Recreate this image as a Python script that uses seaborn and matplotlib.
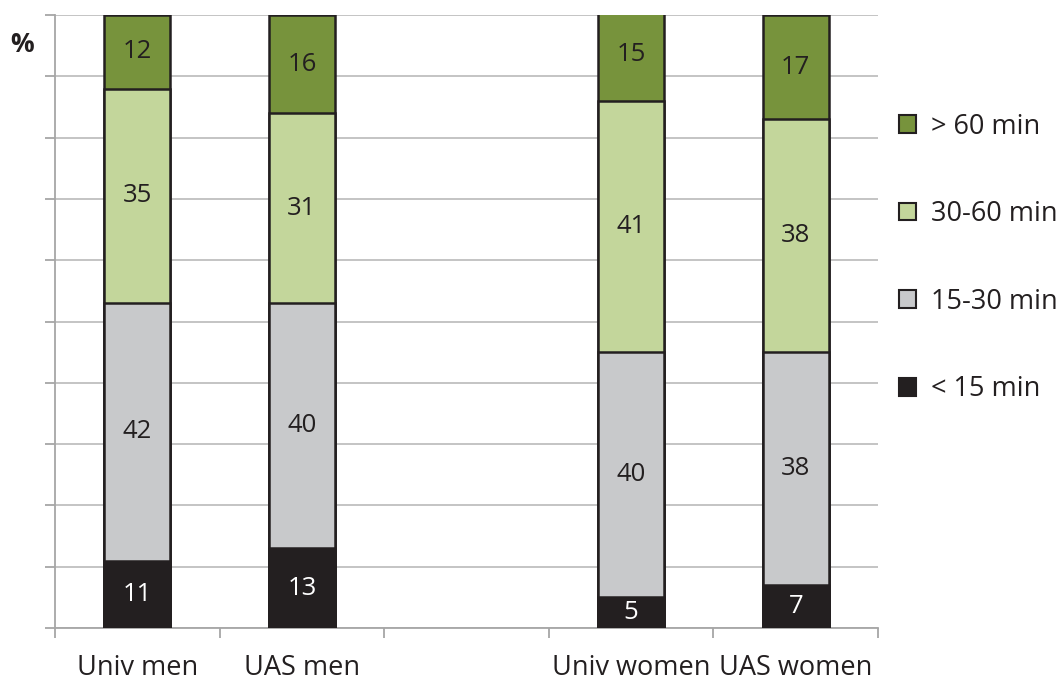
import numpy as np
import pandas as pd
import matplotlib
matplotlib.use("Agg")
import matplotlib.pyplot as plt
import seaborn as sns
from matplotlib.patches import Patch

# categories (blank slot between men and women)
groups = ["Univ men", "UAS men", " ", "Univ women", "UAS women"]
bands = ["< 15 min", "15-30 min", "30-60 min", "> 60 min"]
lt15 = [11, 13, np.nan, 5, 7]
m15_30 = [42, 40, np.nan, 40, 38]
m30_60 = [35, 31, np.nan, 41, 38]
gt60 = [12, 16, np.nan, 15, 17]
colors = ["#231F20", "#C8C9CB", "#C3D69B", "#77933C"]
text_colors = ["white", "#231F20", "#231F20", "#231F20"]

sns.set_style("white")
plt.rcParams['font.family'] = ['Open Sans', 'DejaVu Sans']

df = pd.DataFrame({"group": groups, bands[0]: lt15, bands[1]: m15_30,
                   bands[2]: m30_60, bands[3]: gt60})
df = df.dropna()
cum = df[bands].cumsum(axis=1)

fig = plt.figure(figsize=(10.61, 6.82), dpi=100)
ax = fig.add_axes([55/1061, 1-628/682, (878-55)/1061, (628-15)/682])

# draw cumulative totals from the top band down so each layer overlays
for i in range(len(bands)-1, -1, -1):
    sns.barplot(x=df["group"], y=cum[bands[i]], order=groups, color=colors[i],
                width=0.4, edgecolor="#231F20", linewidth=1.8, saturation=1,
                ax=ax, zorder=3)

# segment labels
for i, b in enumerate(bands):
    for j, g in enumerate(df["group"]):
        val = df[b].iloc[j]
        top = cum[b].iloc[j]
        xpos = groups.index(g)
        ax.text(xpos, top - val/2, f"{val:.0f}", ha="center", va="center",
                fontsize=18.5, color=text_colors[i], zorder=5)

ax.set_ylim(0, 100)
ax.set_xlim(-0.5, len(groups)-0.5)
ax.set_yticks(np.arange(0, 101, 10))
ax.set_yticklabels([])
ax.yaxis.grid(True, color="#BFBFBF", linewidth=1.3, zorder=0)
ax.set_axisbelow(True)
ax.tick_params(axis="y", left=True, length=7, width=1.3, color="#A6A6A6")

ax.set_xticks(np.arange(-0.5, len(groups), 1))
ax.set_xticklabels([])
ax.set_xticks(np.arange(len(groups)), minor=True)
ax.set_xticklabels(groups, minor=True, fontsize=19.5, color="#231F20")
ax.tick_params(axis="x", which="major", bottom=True, length=7, width=1.3,
               color="#A6A6A6", direction="out")
ax.tick_params(axis="x", which="minor", bottom=False, length=0, pad=19)
ax.set_xlabel("")
ax.set_ylabel("")

for s in ["top", "right"]:
    ax.spines[s].set_visible(False)
for s in ["left", "bottom"]:
    ax.spines[s].set_color("#A6A6A6")
    ax.spines[s].set_linewidth(1.3)

fig.text(22/1061, 1-45/682, "%", fontsize=19, fontweight="bold",
         ha="center", va="center", color="#231F20")

handles = [Patch(facecolor=colors[i], edgecolor="#231F20", linewidth=1.5, label=bands[i])
           for i in range(len(bands)-1, -1, -1)]
fig.legend(handles=handles, loc="center left",
           bbox_to_anchor=(899/1061, 1-258/682), frameon=False,
           fontsize=19.5, handlelength=0.62, handleheight=0.62, handletextpad=0.55,
           labelspacing=2.2, borderpad=0, borderaxespad=0,
           labelcolor="#231F20")

fig.savefig("out.png", dpi=100)
